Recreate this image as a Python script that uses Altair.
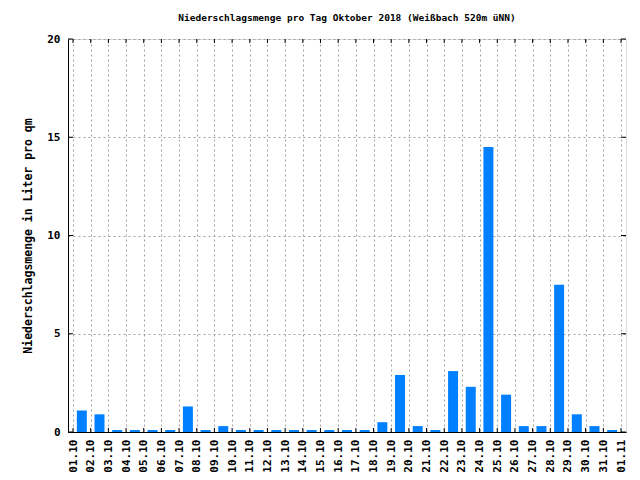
import altair as alt
import pandas as pd

days = ["01.10", "02.10", "03.10", "04.10", "05.10", "06.10", "07.10", "08.10",
        "09.10", "10.10", "11.10", "12.10", "13.10", "14.10", "15.10", "16.10",
        "17.10", "18.10", "19.10", "20.10", "21.10", "22.10", "23.10", "24.10",
        "25.10", "26.10", "27.10", "28.10", "29.10", "30.10", "31.10"]
rain = [1.1, 0.9, 0.1, 0.1, 0.1, 0.1, 1.3, 0.1,
        0.3, 0.1, 0.1, 0.1, 0.1, 0.1, 0.1, 0.1,
        0.1, 0.5, 2.9, 0.3, 0.1, 3.1, 2.3, 14.5,
        1.9, 0.3, 0.3, 7.5, 0.9, 0.3, 0.1]
tick_labels = days + ["01.11"]
y_ticks = [0, 5, 10, 15, 20]

FONT = "DejaVu Sans Mono"
W, H = 558, 393

df = pd.DataFrame({"pos": [i + 0.5 for i in range(len(days))], "day": days, "rain": rain})
xt = pd.DataFrame({"t": list(range(len(tick_labels)))})
yt = pd.DataFrame({"v": y_ticks})

label_expr = "[" + ",".join("'%s'" % s for s in tick_labels) + "][datum.value]"

xscale = alt.Scale(domain=[0, len(tick_labels) - 1], nice=False, zero=False)
yscale = alt.Scale(domain=[0, 20], nice=False)

xaxis = alt.Axis(values=list(range(len(tick_labels))), labelExpr=label_expr,
                 labelAngle=270, labelPadding=7, ticks=False, title=None,
                 grid=True, gridDash=[2, 3], gridColor="#a0a0a0",
                 labelFont=FONT, labelFontSize=11, labelFontWeight="bold",
                 labelColor="black", domainColor="black", labelOverlap=False,
                 labelFlush=False)
yaxis = alt.Axis(values=y_ticks, ticks=False, labelPadding=8,
                 title="Niederschlagsmenge in Liter pro qm", titlePadding=13,
                 grid=True, gridDash=[2, 3], gridColor="#a0a0a0",
                 labelFont=FONT, labelFontSize=11, labelFontWeight="bold",
                 titleFont=FONT, titleFontSize=11.5, titleFontWeight="bold",
                 labelColor="black", titleColor="black", domainColor="black")

bars = alt.Chart(df).mark_bar(size=10, color="#0080ff").encode(
    x=alt.X("pos:Q", scale=xscale, axis=xaxis),
    y=alt.Y("rain:Q", scale=yscale, axis=yaxis),
)

tick_bottom = alt.Chart(xt).mark_rule(color="black", strokeWidth=1).encode(
    x=alt.X("t:Q", scale=xscale, axis=xaxis), y=alt.value(H), y2=alt.value(H - 4))
tick_top = alt.Chart(xt).mark_rule(color="black", strokeWidth=1).encode(
    x=alt.X("t:Q", scale=xscale, axis=xaxis), y=alt.value(0), y2=alt.value(4))
tick_left = alt.Chart(yt).mark_rule(color="black", strokeWidth=1).encode(
    y=alt.Y("v:Q", scale=yscale, axis=yaxis), x=alt.value(0), x2=alt.value(5))
tick_right = alt.Chart(yt).mark_rule(color="black", strokeWidth=1).encode(
    y=alt.Y("v:Q", scale=yscale, axis=yaxis), x=alt.value(W), x2=alt.value(W - 5))

chart = alt.layer(bars, tick_bottom, tick_top, tick_left, tick_right).properties(
    width=W, height=H,
    title=alt.TitleParams("Niederschlagsmenge pro Tag Oktober 2018 (Weißbach 520m üNN)",
                          font=FONT, fontSize=9.5, fontWeight="bold", color="black",
                          anchor="middle", offset=11),
    autosize=alt.AutoSizeParams(type="none"),
    padding={"left": 60, "top": 31, "right": 6, "bottom": 40},
).configure_view(stroke="black", strokeWidth=1).configure(background="white")

chart.save("out.html", embed_options={"renderer": "svg", "actions": False})
